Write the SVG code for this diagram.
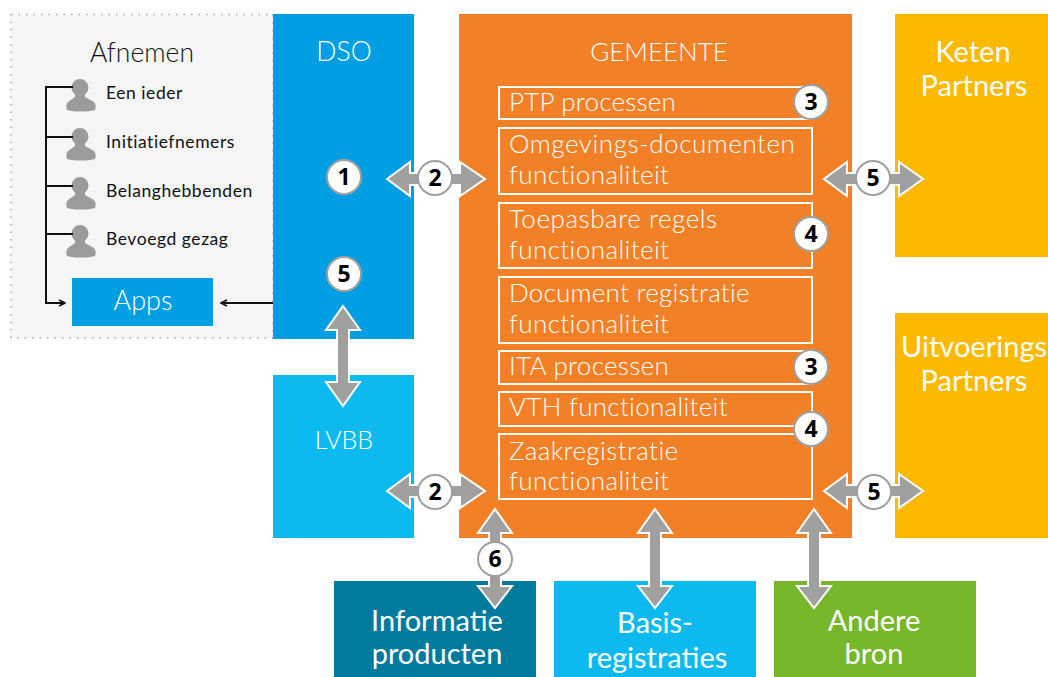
<svg xmlns="http://www.w3.org/2000/svg" xmlns:xlink="http://www.w3.org/1999/xlink" width="1048" height="677" viewBox="0 0 1048 677">
<style>
text{font-family:"Lato","Noto Sans","Liberation Sans",sans-serif;font-weight:300}
.w{fill:#fff}
.k{fill:#111}
.m{text-anchor:middle}
.inner{fill:none;stroke:#fff;stroke-width:2}
.arrow{fill:#a0a09f;stroke:#fff;stroke-width:2}
.line{fill:none;stroke:#111;stroke-width:2}
.badge{fill:#fff;stroke:#a0a09f;stroke-width:2}
.num{font-family:"Open Sans","Liberation Sans",sans-serif;font-weight:700;font-size:23px;text-anchor:middle;fill:#000}
.row{font-size:26px;fill:#fff;letter-spacing:.4px}
.person{font-size:17.500px;fill:#111;font-weight:400;letter-spacing:.55px}
.big{font-size:29px;fill:#fff;text-anchor:middle;font-weight:400}
</style>
<defs>
<marker id="tip" viewBox="0 0 8 8" refX="7" refY="4" markerWidth="8" markerHeight="8" markerUnits="userSpaceOnUse" orient="auto"><path d="M1 1L7 4L1 7" fill="none" stroke="#111" stroke-width="1.6"/></marker>
<g id="user"><circle cx="80" cy="87.500" r="8.500" fill="#9b9b9b"/><path d="M75 94h10v3l9 5c2 2 2 6 1 8c-8 2-20 2-28 0c-1-2-1-6 1-8l7-5z" fill="#9b9b9b"/></g>
</defs>
<g id="afnemen">
<rect x="11" y="14.500" width="262" height="323.500" fill="#f5f5f5" stroke="#aaa" stroke-width="1.500" stroke-dasharray="1.500 6"/>
<text x="142" y="62" class="k m" font-size="26.500">Afnemen</text>
</g>
<g id="een-ieder"><use href="#user"/><text x="106" y="99" class="person">Een ieder</text></g>
<g id="initiatiefnemers"><use href="#user" y="49"/><text x="106" y="148" class="person">Initiatiefnemers</text></g>
<g id="belanghebbenden"><use href="#user" y="98"/><text x="106" y="197" class="person">Belanghebbenden</text></g>
<g id="bevoegd-gezag"><use href="#user" y="146"/><text x="106" y="245" class="person">Bevoegd gezag</text></g>
<g id="apps"><rect x="72" y="278" width="141" height="48" fill="#009fe3"/><text x="143" y="310" class="w m" font-size="27">Apps</text></g>
<g id="dso"><rect x="273" y="14" width="141" height="325" fill="#009fe3"/><text x="344" y="61" class="w m" font-size="26.500">DSO</text></g>
<g id="lvbb"><rect x="273" y="375" width="141" height="163" fill="#0dbaf0"/><text x="344" y="449" class="w m" font-size="25">LVBB</text></g>
<g id="gemeente"><rect x="459" y="14" width="393" height="524" fill="#f18026"/><text x="659" y="61" class="w m" font-size="26">GEMEENTE</text></g>
<g id="ptp"><rect x="499" y="87" width="313" height="32" class="inner"/><text x="509" y="111" class="row" style="letter-spacing:.2px">PTP processen</text></g>
<g id="omgeving"><rect x="499" y="128" width="313" height="66" class="inner"/><text x="509" y="153" class="row" style="letter-spacing:.55px">Omgevings-documenten</text><text x="509" y="184" class="row">functionaliteit</text></g>
<g id="toepasbare"><rect x="499" y="203" width="313" height="65" class="inner"/><text x="509" y="228" class="row" style="letter-spacing:.55px">Toepasbare regels</text><text x="509" y="259" class="row">functionaliteit</text></g>
<g id="document"><rect x="499" y="277" width="313" height="66" class="inner"/><text x="509" y="302" class="row" style="letter-spacing:.25px">Document registratie</text><text x="509" y="333" class="row">functionaliteit</text></g>
<g id="ita"><rect x="499" y="351" width="313" height="33" class="inner"/><text x="509" y="375" class="row" style="letter-spacing:.3px">ITA processen</text></g>
<g id="vth"><rect x="499" y="392" width="313" height="34" class="inner"/><text x="509" y="416" class="row" style="letter-spacing:.3px">VTH functionaliteit</text></g>
<g id="zaak"><rect x="499" y="434" width="313" height="65" class="inner"/><text x="509" y="460" class="row">Zaakregistratie</text><text x="509" y="490" class="row">functionaliteit</text></g>
<g id="keten"><rect x="895" y="14" width="153" height="243" fill="#fdb900"/><text x="973" y="62" class="big">Keten</text><text x="974" y="96" class="big">Partners</text></g>
<g id="uitvoerings"><rect x="895" y="313" width="153" height="225" fill="#fdb900"/><text x="974" y="357" class="big">Uitvoerings</text><text x="974" y="391" class="big">Partners</text></g>
<g id="informatie"><rect x="334" y="581" width="202" height="96" fill="#007b9e"/><text x="437" y="631" class="big">Informatie</text><text x="437" y="664" class="big">producten</text></g>
<g id="basis"><rect x="554" y="581" width="202" height="96" fill="#0dbaf0"/><text x="655" y="633" class="big">Basis-</text><text x="657" y="668" class="big">registraties</text></g>
<g id="andere"><rect x="774" y="581" width="202" height="96" fill="#76b82a"/><text x="874" y="631" class="big">Andere</text><text x="874" y="664" class="big">bron</text></g>
<g id="connectors">
<path class="line" d="M73 87H46V303H65" marker-end="url(#tip)"/>
<path class="line" d="M46 137H73M46 186H73M46 234H73"/>
<path class="line" d="M273 303H221" marker-end="url(#tip)"/>
<polygon class="arrow" points="387,179 410,162 410,173 460,173 460,162 485,179 460,196 460,185 410,185 410,196"/>
<polygon class="arrow" points="387,491 410,474 410,485 460,485 460,474 485,491 460,508 460,497 410,497 410,508"/>
<polygon class="arrow" points="824,179 847,162 847,173 899,173 899,162 923,179 899,196 899,185 847,185 847,196"/>
<polygon class="arrow" points="824,491 847,474 847,485 899,485 899,474 923,491 899,508 899,497 847,497 847,508"/>
<polygon class="arrow" points="343,306 360,330 349,330 349,382 360,382 343,406 326,382 337,382 337,330 326,330"/>
<polygon class="arrow" points="495,509 512,533 501,533 501,586 512,586 495,608 478,586 489,586 489,533 478,533"/>
<polygon class="arrow" points="655,509 672,533 661,533 661,586 672,586 655,608 638,586 649,586 649,533 638,533"/>
<polygon class="arrow" points="814,509 831,533 820,533 820,586 831,586 814,608 797,586 808,586 808,533 797,533"/>
</g>
<g id="badge-1"><circle cx="344" cy="177" r="17" class="badge"/><text x="344" y="185" class="num">1</text></g>
<g id="badge-5a"><circle cx="344" cy="274" r="17" class="badge"/><text x="344" y="282" class="num">5</text></g>
<g id="badge-2a"><circle cx="435" cy="178" r="17" class="badge"/><text x="435" y="186" class="num">2</text></g>
<g id="badge-2b"><circle cx="435" cy="492" r="17" class="badge"/><text x="435" y="500" class="num">2</text></g>
<g id="badge-3a"><circle cx="811" cy="102" r="17" class="badge"/><text x="811" y="110" class="num">3</text></g>
<g id="badge-4a"><circle cx="811" cy="234" r="17" class="badge"/><text x="811" y="242" class="num">4</text></g>
<g id="badge-3b"><circle cx="811" cy="367" r="17" class="badge"/><text x="811" y="375" class="num">3</text></g>
<g id="badge-4b"><circle cx="811" cy="429" r="17" class="badge"/><text x="811" y="437" class="num">4</text></g>
<g id="badge-5b"><circle cx="873" cy="178" r="17" class="badge"/><text x="873" y="186" class="num">5</text></g>
<g id="badge-5c"><circle cx="874" cy="492" r="17" class="badge"/><text x="874" y="500" class="num">5</text></g>
<g id="badge-6"><circle cx="495" cy="559" r="17" class="badge"/><text x="495" y="567" class="num">6</text></g>
</svg>
